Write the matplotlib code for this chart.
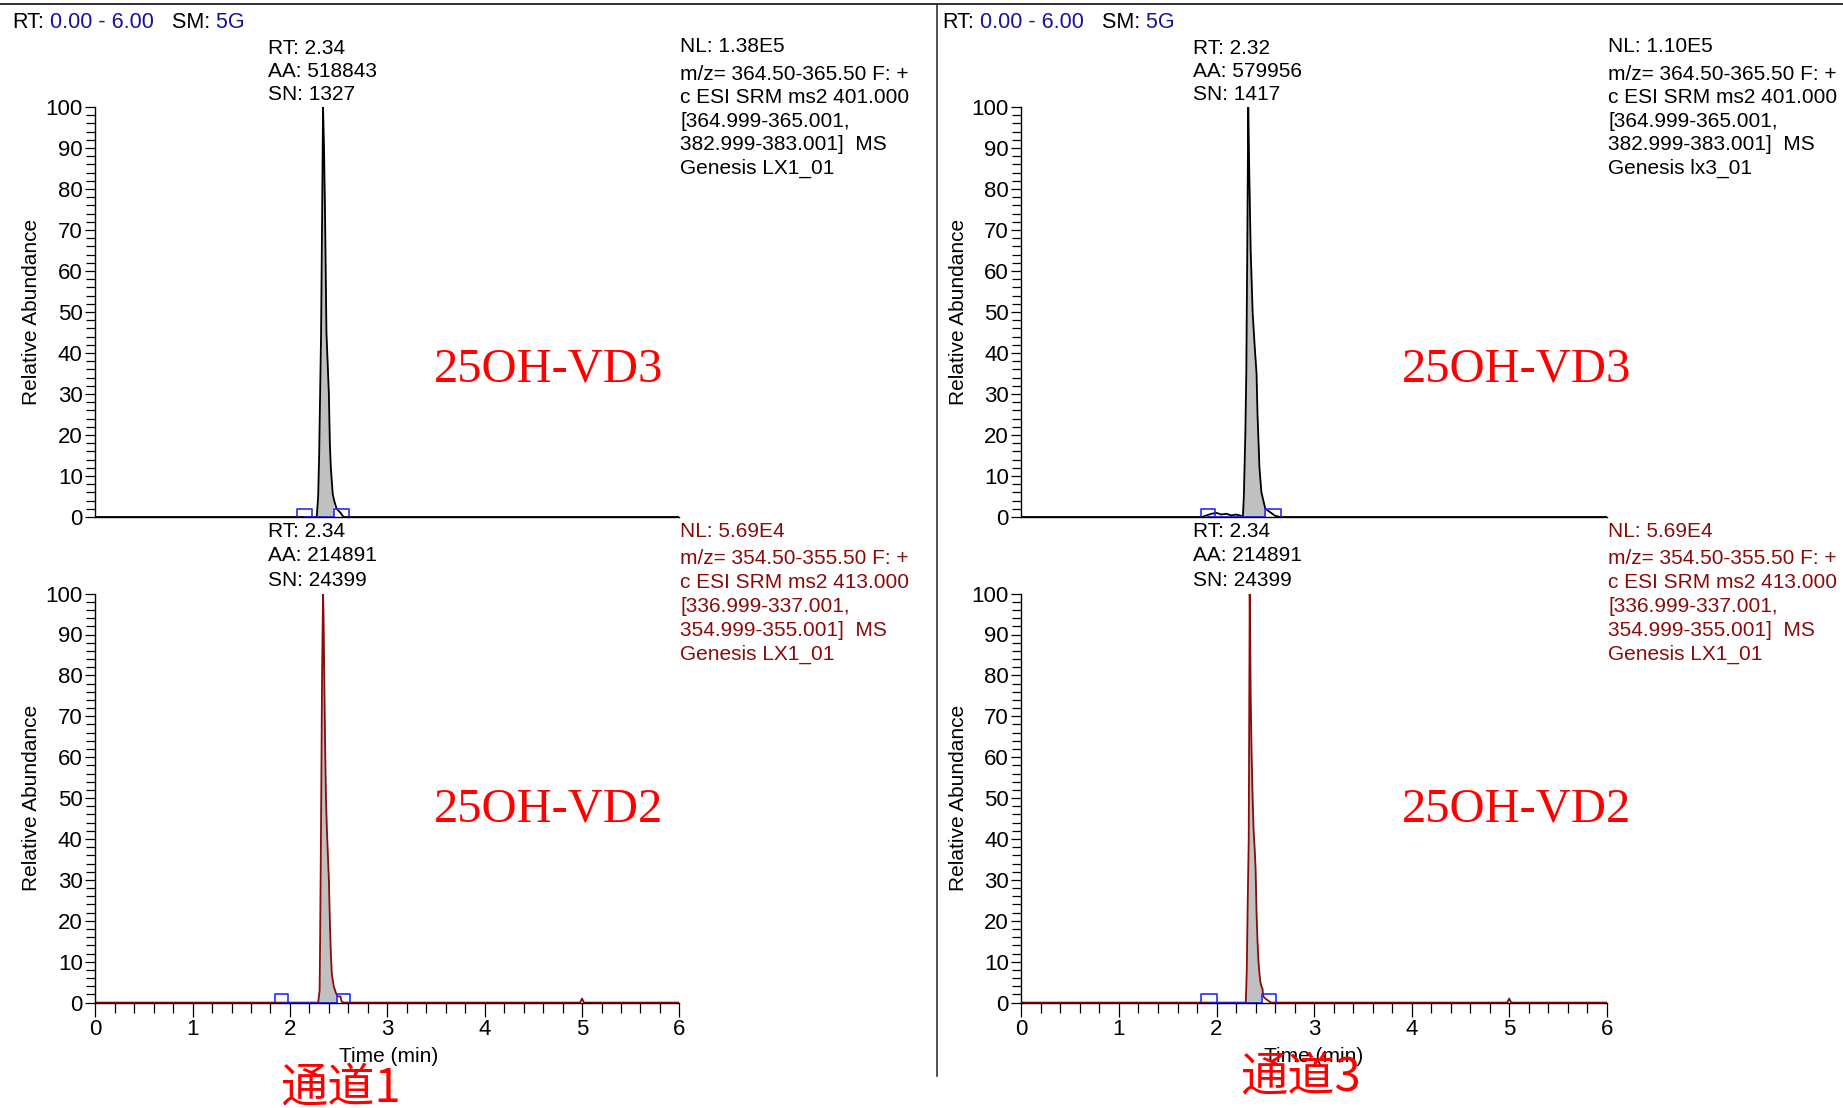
import numpy as np
import matplotlib
matplotlib.use('Agg')
import matplotlib.pyplot as plt
from matplotlib.lines import Line2D
from matplotlib.ticker import MultipleLocator

W, H = 1843, 1108

# ---- chromatogram traces (time in min, relative abundance %) ----
tl_time = [0.0, 2.20, 2.275, 2.29, 2.30, 2.31, 2.32, 2.33, 2.34, 2.35, 2.36, 2.375, 2.39, 2.40,
           2.41, 2.42, 2.44, 2.45, 2.46, 2.48, 2.52, 2.55, 6.0]
tl_abund = [0, 0, 0, 5, 15, 30, 45, 72, 100, 90, 75, 45, 36, 30,
            18, 12, 5.5, 4.5, 3.5, 2, 1, 0, 0]

tr_time = [0.0, 1.85, 1.90, 1.95, 2.00, 2.05, 2.10, 2.15, 2.20, 2.25, 2.27, 2.28, 2.295, 2.305,
           2.315, 2.325, 2.335, 2.35, 2.37, 2.39, 2.41, 2.42, 2.44, 2.46, 2.48, 2.50, 2.53, 2.56,
           2.60, 2.65, 6.0]
tr_abund = [0, 0, 0.4, 0.8, 1.0, 0.6, 0.8, 0.4, 0.6, 0.3, 0, 5, 20, 35,
            65, 100, 85, 65, 50, 42, 35, 25, 12, 6, 4, 2, 1.5, 1,
            0.3, 0, 0]

bl_time = [0.0, 2.29, 2.305, 2.31, 2.32, 2.33, 2.34, 2.345, 2.35, 2.36, 2.37, 2.38, 2.39, 2.40,
           2.41, 2.42, 2.43, 2.45, 2.47, 2.48, 2.49, 2.52, 2.53, 2.55, 4.98, 5.0, 5.02, 6.0]
bl_abund = [0, 0, 3, 15, 45, 80, 100, 95, 85, 65, 50, 42, 36, 30,
            20, 12, 7, 4, 2.5, 2, 1.5, 1.5, 0.3, 0, 0, 1, 0, 0]

br_time = [0.0, 2.30, 2.31, 2.32, 2.33, 2.335, 2.34, 2.345, 2.35, 2.36, 2.37, 2.38, 2.39, 2.40,
           2.41, 2.42, 2.43, 2.44, 2.45, 2.46, 2.47, 2.48, 2.50, 2.54, 2.56, 4.98, 5.0, 5.02, 6.0]
br_abund = [0, 0, 8, 25, 40, 70, 100, 90, 75, 60, 50, 42, 38, 33,
            22, 15, 10, 7, 5, 4, 3.5, 1.5, 1, 0.3, 0, 0, 1, 0, 0]

# integrated peak range and the peak start / end marker boxes
tl_peak = (2.275, 2.45)
tr_peak = (2.27, 2.50)
bl_peak = (2.29, 2.48)
br_peak = (2.30, 2.47)
tl_boxes = [(2.07, 2.23), (2.45, 2.61)]
tr_boxes = [(1.84, 1.98), (2.50, 2.66)]
bl_boxes = [(1.85, 1.98), (2.48, 2.62)]
br_boxes = [(1.84, 2.00), (2.47, 2.61)]

# ---- text ----
tl_info = ["RT: 2.34", "AA: 518843", "SN: 1327"]
tr_info = ["RT: 2.32", "AA: 579956", "SN: 1417"]
bl_info = ["RT: 2.34", "AA: 214891", "SN: 24399"]
br_info = ["RT: 2.34", "AA: 214891", "SN: 24399"]
tl_nl = ["NL: 1.38E5", "m/z= 364.50-365.50 F: +", "c ESI SRM ms2 401.000",
         "[364.999-365.001,", "382.999-383.001]  MS", "Genesis LX1_01"]
tr_nl = ["NL: 1.10E5", "m/z= 364.50-365.50 F: +", "c ESI SRM ms2 401.000",
         "[364.999-365.001,", "382.999-383.001]  MS", "Genesis lx3_01"]
b_nl = ["NL: 5.69E4", "m/z= 354.50-355.50 F: +", "c ESI SRM ms2 413.000",
        "[336.999-337.001,", "354.999-355.001]  MS", "Genesis LX1_01"]

SANS = ['Liberation Sans', 'DejaVu Sans']
plt.rcParams['font.family'] = SANS

DARKRED = '#8b0a0a'
GRAY = '#c0c0c0'
BLUE = '#2a2aff'

fig = plt.figure(figsize=(W / 100, H / 100), dpi=100, facecolor='white')


def fx(px):
    return px / W


def fy(py):
    return 1 - py / H


def chrom(rect, t, a, peak, boxes, color, bottom):
    ax = fig.add_axes(rect)
    t = np.array(t)
    a = np.array(a)
    m = (t >= peak[0]) & (t <= peak[1])
    ax.fill_between(t[m], a[m], 0, color=GRAY, lw=0)
    ax.plot(t, a, color=color, lw=1.3)
    for x0, x1 in boxes:
        ax.plot([x0, x0, x1, x1], [0, 2, 2, 0], color=BLUE, lw=1.2, clip_on=False)
    ax.plot([(boxes[0][0] + boxes[0][1]) / 2, boxes[1][0]], [0, 0], color=BLUE, lw=1.3)
    ax.set_xlim(0, 6)
    ax.set_ylim(0, 100)
    for s in ['top', 'right']:
        ax.spines[s].set_visible(False)
    ax.spines['left'].set_linewidth(1.0)
    ax.spines['bottom'].set_linewidth(1.0)
    ax.yaxis.set_major_locator(MultipleLocator(10))
    ax.yaxis.set_minor_locator(MultipleLocator(2))
    ax.tick_params(axis='y', which='major', length=7.5, width=0.9, pad=1.5, labelsize=16)
    ax.tick_params(axis='y', which='minor', length=6.5, width=0.9)
    if bottom:
        ax.xaxis.set_major_locator(MultipleLocator(1))
        ax.xaxis.set_minor_locator(MultipleLocator(0.2))
        ax.tick_params(axis='x', which='major', length=10, width=0.9, pad=2, labelsize=16)
        ax.tick_params(axis='x', which='minor', length=7, width=0.9)
    else:
        ax.set_xticks([])
    ax.patch.set_alpha(0)
    return ax


lx, lw_ = fx(95.2), fx(679.4) - fx(95.2)
rx, rw = fx(1021.4), fx(1606.8) - fx(1021.4)
tb, th = fy(517), (517 - 107) / H
bb, bh = fy(1002.6), (1002.6 - 593.6) / H

chrom([lx, tb, lw_, th], tl_time, tl_abund, tl_peak, tl_boxes, 'black', False)
chrom([rx, tb, rw, th], tr_time, tr_abund, tr_peak, tr_boxes, 'black', False)
chrom([lx, bb, lw_, bh], bl_time, bl_abund, bl_peak, bl_boxes, DARKRED, True)
chrom([rx, bb, rw, bh], br_time, br_abund, br_peak, br_boxes, DARKRED, True)

# frame lines
fig.add_artist(Line2D([0, 1], [fy(3.5), fy(3.5)], color='#222222', lw=1.3))
fig.add_artist(Line2D([fx(937), fx(937)], [fy(4), fy(1076)], color='#333333', lw=1.2))

# header "RT: 0.00 - 6.00   SM: 5G"
renderer = fig.canvas.get_renderer()


def header(x):
    for s, c in [("RT:", 'black'), (" 0.00 - 6.00", '#14149a'), ("   SM:", 'black'), (" 5G", '#14149a')]:
        t = fig.text(x, fy(22.5), s, color=c, fontsize=15.5, va='center', ha='left')
        x = t.get_window_extent(renderer=renderer).x1 / W


header(fx(12))
header(fx(942))

# peak info and scan info blocks
for x, info in [(268, tl_info), (1193, tr_info)]:
    for y, s in zip([48.2, 71.7, 94.5], info):
        fig.text(fx(x), fy(y), s, fontsize=15, va='center')
for x, info in [(268, bl_info), (1193, br_info)]:
    for y, s in zip([531.5, 555.5, 581], info):
        fig.text(fx(x), fy(y), s, fontsize=15, va='center')

for x, lines in [(680.5, tl_nl), (1608, tr_nl)]:
    for y, s in zip([46, 74, 97.6, 121.1, 144.6, 168.1], lines):
        fig.text(fx(x), fy(y), s, fontsize=15, va='center')
for x in [680.5, 1608]:
    for y, s in zip([531.5, 559, 582.6, 606, 631, 654], b_nl):
        fig.text(fx(x), fy(y), s, fontsize=15, va='center', color=DARKRED)

# axis titles
for y in [312, 798]:
    for x in [32, 958]:
        fig.text(fx(x), fy(y), "Relative Abundance", fontsize=15,
                 rotation=90, ha='center', va='center')
for x in [389, 1314]:
    fig.text(fx(x), fy(1056), "Time (min)", fontsize=15, ha='center', va='center')

# red compound labels
for x in [549, 1517]:
    fig.text(fx(x), fy(369), "25OH-VD3", fontsize=35, family=['Liberation Serif'],
             color='#ff0000', ha='center', va='center')
    fig.text(fx(x), fy(809), "25OH-VD2", fontsize=35, family=['Liberation Serif'],
             color='#ff0000', ha='center', va='center')

fig.text(fx(341), fy(1089), "通道1", fontsize=34, family=['Noto Sans CJK SC', 'DejaVu Sans'],
         color='#ff0000', ha='center', va='center')
fig.text(fx(1300), fy(1078), "通道3", fontsize=34, family=['Noto Sans CJK SC', 'DejaVu Sans'],
         color='#ff0000', ha='center', va='center')

fig.savefig('out.png', dpi=100, facecolor='white')
